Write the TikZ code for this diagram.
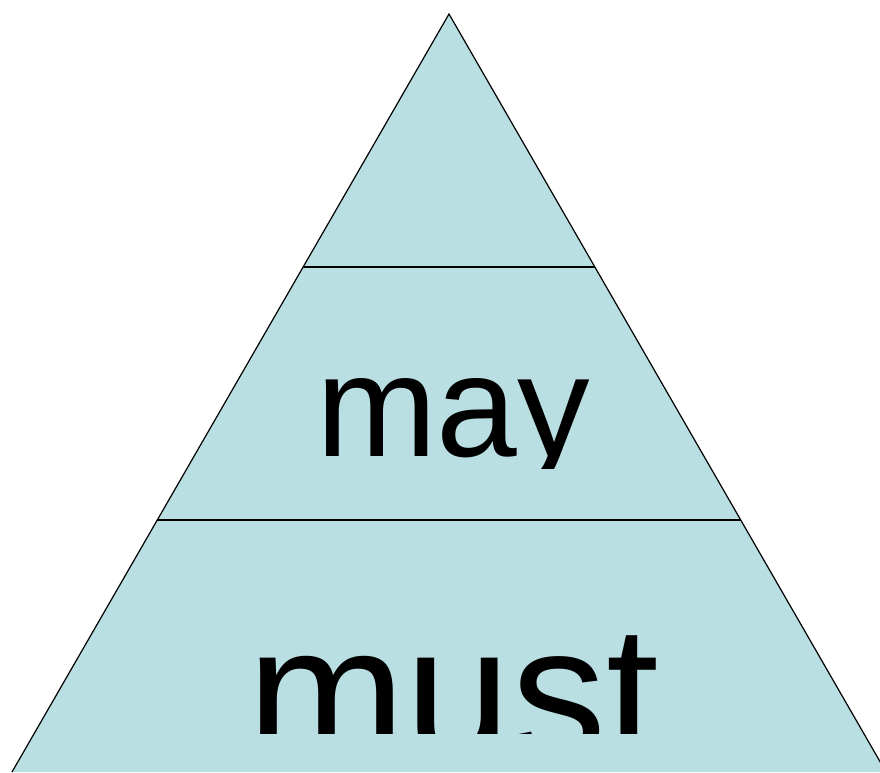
\documentclass[tikz,border=0pt]{standalone}
\usepackage{fontspec}
\newfontfamily\arialf{Liberation Sans}
\definecolor{pyrfill}{RGB}{185,223,227}
\begin{document}
\begin{tikzpicture}[x=1pt,y=1pt,
  edge/.style={draw=black,line width=1.2pt,line join=miter},
  label/.style={inner sep=0pt,anchor=base,text=black}]
\useasboundingbox (0,0) rectangle (880,772);
\coordinate (apex) at (449,758);
\coordinate (bl) at (12,0);
\coordinate (br) at (886,0);
\coordinate (l1a) at (303.1,505);
\coordinate (l1b) at (594.9,505);
\coordinate (l2a) at (157.3,252);
\coordinate (l2b) at (740.7,252);
\fill[pyrfill] (apex) -- (bl) -- (br) -- cycle;
\draw[edge] (bl) -- (apex) -- (br);
\draw[edge] (l1a) -- (l1b);
\draw[edge] (l2a) -- (l2b);
\begin{scope}
\clip (0,304) rectangle (880,505);
\node[label,font=\arialf\fontsize{145}{145}\selectfont] (may) at (453,316) {may};
\end{scope}
\begin{scope}
\clip (0,39) rectangle (880,252);
\node[label,font=\arialf\fontsize{190}{190}\selectfont] (must) at (453,14) {must};
\end{scope}
\end{tikzpicture}
\end{document}
